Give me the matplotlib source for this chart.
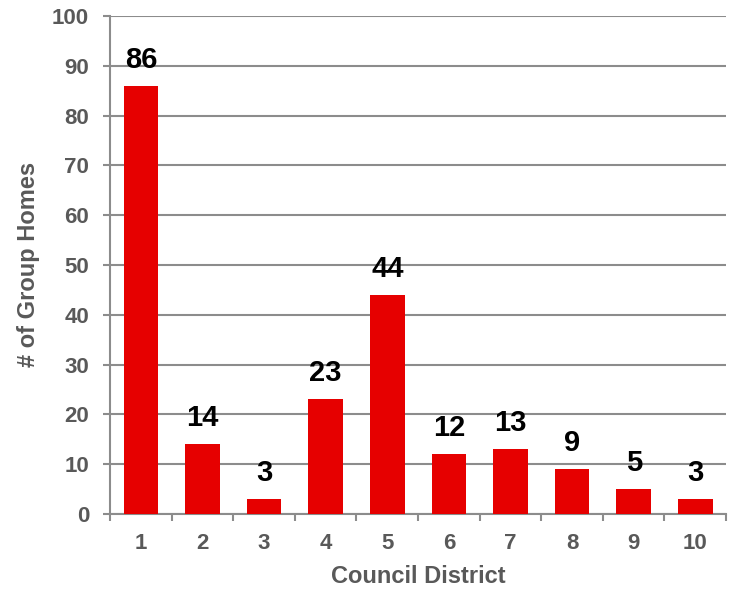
import numpy as np
import matplotlib.pyplot as plt

plt.rcParams['font.family'] = ['Liberation Sans', 'DejaVu Sans']
plt.rcParams['font.weight'] = 'bold'

# data
districts = ['1', '2', '3', '4', '5', '6', '7', '8', '9', '10']
homes = [86, 14, 3, 23, 44, 12, 13, 9, 5, 3]

gray = '#595959'
line_gray = '#8C8C8C'
red = '#E60000'

fig = plt.figure(figsize=(7.29, 5.9), dpi=100)
ax = fig.add_axes([0.151, 0.129, 0.845, 0.844])

x = np.arange(1, len(districts) + 1)
ax.bar(x, homes, width=0.56, color=red, zorder=3)

for xi, v in zip(x, homes):
    ax.annotate(str(v), (xi, v), xytext=(0, 13), textcoords='offset points',
                ha='center', va='baseline', fontsize=21, fontweight='bold', color='black')

ax.set_xlim(0.5, 10.5)
ax.set_ylim(0, 100)
ax.set_yticks(np.arange(0, 101, 10))
ax.set_xticks(x)
ax.set_xticklabels(districts)
ax.set_xticks(np.arange(0.5, 10.6, 1), minor=True)

ax.grid(axis='y', color=line_gray, linewidth=1.5, zorder=0)
ax.set_axisbelow(True)

for s in ['top', 'right']:
    ax.spines[s].set_visible(False)
for s in ['left', 'bottom']:
    ax.spines[s].set_color(line_gray)
    ax.spines[s].set_linewidth(1.5)

ax.tick_params(axis='y', direction='out', length=5, width=1.5, color=line_gray,
               labelsize=16, labelcolor=gray, pad=10)
ax.tick_params(axis='x', which='major', length=0, labelsize=16, labelcolor=gray, pad=14)
ax.tick_params(axis='x', which='minor', direction='out', length=5, width=1.5, color=line_gray)

ax.set_xlabel('Council District', fontsize=17, fontweight='bold', color=gray, labelpad=8)
ax.set_ylabel('# of Group Homes', fontsize=17, fontweight='bold', color=gray, labelpad=9)

fig.savefig('out.png', dpi=100)
